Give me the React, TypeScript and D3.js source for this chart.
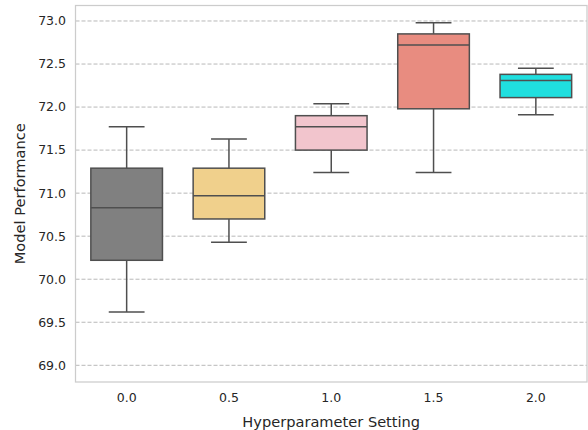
import React from "react";
import * as d3 from "d3";

// values
const settings = ["0.0", "0.5", "1.0", "1.5", "2.0"];
const whiskerLow = [69.62, 70.43, 71.24, 71.24, 71.91];
const q1 = [70.22, 70.7, 71.5, 71.98, 72.11];
const median = [70.83, 70.97, 71.77, 72.72, 72.31];
const q3 = [71.29, 71.29, 71.9, 72.85, 72.38];
const whiskerHigh = [71.77, 71.63, 72.04, 72.98, 72.45];
const boxColors = ["#808080", "#f0d08c", "#f2c5cd", "#e88c80", "#20dfdf"];
const yTicks = [69.0, 69.5, 70.0, 70.5, 71.0, 71.5, 72.0, 72.5, 73.0];

const W = 588;
const H = 430;
const margin = { top: 5.5, right: 1, bottom: 48, left: 75.5 };

const App = () => {
  const x = d3
    .scaleBand()
    .domain(settings)
    .range([margin.left, W - margin.right])
    .paddingInner(0)
    .paddingOuter(0);
  const y = d3
    .scaleLinear()
    .domain([68.806, 73.18])
    .range([H - margin.bottom, margin.top]);

  const boxW = x.bandwidth() * 0.7;
  const capW = boxW * 0.5;
  const edge = "#4f4f4f";
  const font = "DejaVu Sans, sans-serif";

  return (
    <svg
      width={W}
      height={H}
      style={{ position: "absolute", left: 0, top: 0, background: "#fff" }}
    >
      {/* grid */}
      {yTicks.map((t) => (
        <line
          key={t}
          x1={margin.left}
          x2={W - margin.right}
          y1={y(t)}
          y2={y(t)}
          stroke="#b0b0b0"
          strokeWidth={0.9}
          strokeDasharray="4,2"
        />
      ))}

      {/* boxes */}
      {settings.map((s, i) => {
        const cx = (x(s) as number) + x.bandwidth() / 2;
        return (
          <g key={s}>
            <line x1={cx} x2={cx} y1={y(q3[i])} y2={y(whiskerHigh[i])} stroke={edge} strokeWidth={1.5} />
            <line x1={cx} x2={cx} y1={y(q1[i])} y2={y(whiskerLow[i])} stroke={edge} strokeWidth={1.5} />
            <line x1={cx - capW / 2} x2={cx + capW / 2} y1={y(whiskerHigh[i])} y2={y(whiskerHigh[i])} stroke={edge} strokeWidth={1.5} />
            <line x1={cx - capW / 2} x2={cx + capW / 2} y1={y(whiskerLow[i])} y2={y(whiskerLow[i])} stroke={edge} strokeWidth={1.5} />
            <rect
              x={cx - boxW / 2}
              y={y(q3[i])}
              width={boxW}
              height={y(q1[i]) - y(q3[i])}
              fill={boxColors[i]}
              stroke={edge}
              strokeWidth={1.5}
            />
            <line x1={cx - boxW / 2} x2={cx + boxW / 2} y1={y(median[i])} y2={y(median[i])} stroke={edge} strokeWidth={1.5} />
          </g>
        );
      })}

      {/* frame */}
      <rect
        x={margin.left}
        y={margin.top}
        width={W - margin.right - margin.left}
        height={H - margin.bottom - margin.top}
        fill="none"
        stroke="#cccccc"
        strokeWidth={1.25}
      />

      {/* y tick labels */}
      {yTicks.map((t) => (
        <text
          key={t}
          x={margin.left - 9.5}
          y={y(t)}
          dy="0.35em"
          textAnchor="end"
          fontFamily={font}
          fontSize={12.5}
          fill="#262626"
        >
          {t.toFixed(1)}
        </text>
      ))}

      {/* x tick labels */}
      {settings.map((s) => (
        <text
          key={s}
          x={(x(s) as number) + x.bandwidth() / 2}
          y={H - margin.bottom + 16}
          dy="0.35em"
          textAnchor="middle"
          fontFamily={font}
          fontSize={12.5}
          fill="#262626"
        >
          {s}
        </text>
      ))}

      <text
        x={(margin.left + W - margin.right) / 2}
        y={421.5}
        dy="0.35em"
        textAnchor="middle"
        fontFamily={font}
        fontSize={14.6}
        fill="#262626"
      >
        Hyperparameter Setting
      </text>
      <text
        transform={`translate(19.5,${(margin.top + H - margin.bottom) / 2}) rotate(-90)`}
        dy="0.35em"
        textAnchor="middle"
        fontFamily={font}
        fontSize={14.6}
        fill="#262626"
      >
        Model Performance
      </text>
    </svg>
  );
};

export default App;
